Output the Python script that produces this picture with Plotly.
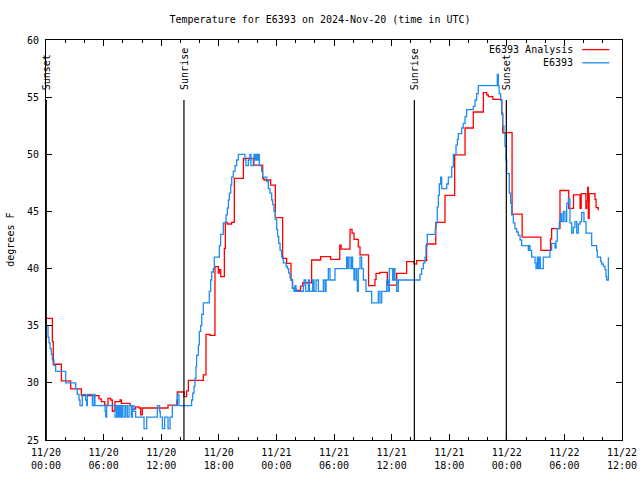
import pandas as pd
import plotly.graph_objects as go

# ---- data (hours after 2024-11-20 00:00 UTC, degrees F), step series ----
analysis_hours = [0.07, 0.66, 0.76, 1.60, 2.57, 3.68, 5.52, 5.76, 6.11, 6.46, 6.74, 6.91, 7.08, 7.19,
                  7.71, 7.85, 8.75, 8.99, 9.34, 9.69, 9.86, 10.03, 12.71, 13.68, 14.38, 14.65, 14.83,
                  16.39, 16.67, 17.08, 17.60, 17.95, 18.05, 18.20, 18.58, 18.68, 18.89, 19.34, 19.62,
                  20.56, 21.60, 22.57, 22.71, 23.40, 23.89, 24.65, 25.07, 25.52, 25.69, 26.04, 26.53,
                  26.74, 27.67, 28.61, 29.65, 30.60, 30.75, 31.67, 31.88, 32.08, 32.53, 32.71, 33.60,
                  34.27, 34.38, 34.79, 35.56, 36.53, 37.57, 38.33, 38.61, 39.65, 40.60, 41.56, 42.57,
                  43.65, 44.51, 45.56, 45.90, 46.08, 46.55, 47.47, 47.57, 48.55, 49.60, 51.55, 52.55,
                  52.67, 53.54, 54.45, 54.95, 55.63, 55.75, 56.24, 56.32, 56.42, 56.49, 56.58, 57.19,
                  57.30, 57.53]
analysis_temps = [35.65, 33.6, 31.63, 30.17, 29.47, 28.88, 28.6, 28.35, 28.06, 28.65, 28.5, 27.5, 27.6, 28.35,
                  28.5, 28.2, 28.0, 27.7, 27.9, 27.8, 27.2, 27.8, 28.05, 29.2, 28.8, 29.3, 30.22,
                  30.7, 34.25, 34.15, 40.17, 39.6, 39.9, 39.3, 41.77, 44.05, 43.9, 44.05, 47.9,
                  49.65, 49.06, 47.9, 47.75, 47.3, 44.45, 40.9, 40.46, 39.0, 38.27, 38.1, 38.47,
                  38.76, 40.75, 41.04, 40.8, 42.06, 41.7, 43.43, 43.1, 42.56, 41.9, 41.2, 38.5,
                  39.06, 39.58, 39.67, 38.56, 39.58, 40.6, 40.4, 40.7, 42.15, 44.05, 46.4, 49.94,
                  52.3, 53.7, 55.4, 55.19, 55.04, 54.81, 53.6, 51.89, 44.77, 42.75, 41.6, 42.6,
                  43.5, 46.83, 45.27, 46.44, 45.27, 46.55, 45.27, 45.9, 47.1, 44.4, 46.55, 46.06,
                  45.33, 45.1]

obs_hours = [0.07, 0.21, 0.31, 0.42, 0.56, 0.66, 0.83, 1.01, 2.05, 3.09, 3.26, 3.44, 3.54, 3.78, 4.13,
             4.24, 4.31, 4.83, 5.00, 5.10, 6.15, 6.22, 6.32, 7.08, 7.19, 7.36, 7.50, 7.60, 7.70, 7.78,
             7.88, 7.95, 8.13, 8.30, 8.47, 8.65, 8.89, 9.00, 9.17, 9.34, 10.21, 10.49, 11.60, 11.84,
             11.90, 12.12, 12.36, 12.71, 12.92, 13.16, 13.61, 13.68, 13.85, 15.17, 15.28, 15.42, 15.52,
             15.62, 15.69, 15.87, 15.97, 16.11, 16.22, 16.39, 17.01, 17.15, 17.26, 17.43, 17.53, 18.06,
             18.19, 18.47, 18.75, 18.89, 19.00, 19.10, 19.24, 19.34, 19.51, 19.69, 19.86, 20.03, 20.73,
             20.83, 21.08, 21.25, 21.35, 21.67, 21.77, 21.88, 22.01, 22.12, 22.22, 22.47, 22.57, 23.00,
             23.16, 23.33, 23.51, 23.61, 23.75, 23.89, 24.03, 24.13, 24.24, 24.38, 24.55, 24.72, 25.00,
             25.14, 25.28, 25.42, 25.52, 25.66, 25.83, 25.94, 26.04, 26.81, 26.88, 27.05, 27.33, 27.43,
             27.78, 27.92, 28.13, 28.37, 28.89, 29.06, 29.17, 29.41, 29.58, 30.10, 31.32, 31.39, 31.49,
             31.67, 31.84, 31.94, 32.08, 32.19, 32.36, 32.43, 32.53, 32.71, 32.88, 33.06, 33.33, 33.92,
             34.62, 34.79, 34.97, 35.49, 35.66, 35.76, 36.11, 36.25, 36.35, 36.53, 36.70, 38.96, 39.13,
             39.31, 39.48, 39.58, 39.72, 40.55, 40.63, 40.76, 40.87, 40.97, 41.11, 41.22, 41.74, 41.91,
             42.26, 42.43, 42.71, 42.85, 42.95, 43.30, 43.47, 43.65, 43.82, 44.51, 44.69, 44.86, 45.03,
             47.01, 47.12, 47.20, 47.36, 47.47, 47.57, 47.70, 47.81, 47.92, 47.99, 48.26, 48.40, 48.51,
             48.68, 48.85, 49.03, 49.20, 49.38, 49.55, 50.24, 50.35, 50.42, 50.59, 50.94, 51.04, 51.18,
             51.28, 51.39, 51.49, 51.80, 52.50, 52.67, 53.02, 53.13, 53.26, 53.47, 53.61, 53.72, 53.89,
             54.06, 54.24, 54.41, 54.58, 54.76, 54.93, 55.10, 55.28, 55.45, 55.63, 55.80, 56.04, 56.25,
             56.84, 57.36, 57.43, 57.78, 57.88, 58.06, 58.23, 58.33, 58.40, 58.58]
obs_temps = [35, 34, 33.5, 33, 32.5, 32, 31.5, 31, 30, 29.5, 29, 28.5, 28, 29, 28.5,
             28, 29, 28, 29, 28, 27.5, 27, 28, 28, 27, 28, 27, 28, 27, 28,
             27, 28, 27, 28, 27, 28, 27, 28, 27.5, 27, 26, 27, 28, 27.5,
             27, 26, 27, 26, 27, 28, 28.5, 29, 28, 28.5, 29.1, 29.7, 30.4,
             31.4, 32.4, 33.3, 34.5, 35, 36, 37, 38, 39, 39.7, 40, 41, 42,
             43, 44, 44.7, 45.3, 46, 46.6, 47.3, 48, 48.5, 49, 49.5, 50, 49.5,
             49, 49.5, 50, 49, 50, 49.5, 50, 49.5, 50, 49, 48.5, 48, 47.6,
             47, 46.6, 46, 45.6, 45, 44.3, 43.4, 42.8, 42.2, 41.6, 41, 40.5, 40.2,
             40, 39.6, 39.2, 39, 38.3, 38, 38.5, 38, 38.5, 39, 38, 39, 38,
             39, 38, 39, 38, 39, 38, 39, 40, 39, 40, 41, 40, 41,
             40, 41, 40, 39, 40, 39, 38, 40, 41, 40, 39, 38, 37,
             38, 37, 38, 39, 38, 40, 39, 40, 39, 38, 39, 39.5, 40,
             40.5, 41, 42, 43, 43.5, 44, 45.4, 46.4, 47.4, 48, 47, 47.4, 48,
             48.9, 50, 50.8, 51.3, 51.8, 52.3, 52.7, 53.3, 53.9, 54.2, 54.75, 55.3, 56,
             57, 56, 55.3, 54.7, 53.5, 52.5, 51.8, 50.7, 49.5, 48.3, 46.6, 45.7, 44.7,
             44, 43.5, 43.2, 42.9, 42.5, 42, 41.6, 42, 41.6, 41, 40.5, 40, 41,
             40, 41, 40, 41, 41.6, 42.2, 41.8, 42.4, 43.5, 44.1, 44.8, 44.1, 45,
             44.1, 45.7, 46.1, 44, 43.1, 43.6, 44.1, 43.1, 43.9, 44.1, 44.9, 44.1, 43.1,
             42, 41.6, 41, 40.6, 40.4, 40.2, 39.9, 39.3, 39, 41]

event_names = ["Sunset", "Sunrise", "Sunrise", "Sunset"]
event_hours = [0.03, 14.37, 38.37, 47.95]

series_names = ["E6393 Analysis", "E6393"]
series_colors = ["#ff0000", "#1e8cf0"]

base = pd.Timestamp("2024-11-20 00:00")
def to_time(hours):
    return [base + pd.to_timedelta(h, unit="h") for h in hours]

FONT = "DejaVu Sans Mono"

fig = go.Figure()
fig.add_trace(go.Scatter(x=to_time(analysis_hours), y=analysis_temps, mode="lines",
                         line=dict(color=series_colors[0], width=1.3, shape="hv"),
                         name=series_names[0], showlegend=False, hoverinfo="skip"))
fig.add_trace(go.Scatter(x=to_time(obs_hours), y=obs_temps, mode="lines",
                         line=dict(color=series_colors[1], width=1.3, shape="hv"),
                         name=series_names[1], showlegend=False, hoverinfo="skip"))

# sunrise / sunset markers
for name, t in zip(event_names, to_time(event_hours)):
    fig.add_shape(type="line", xref="x", yref="paper", x0=t, x1=t, y0=0, y1=0.85,
                  line=dict(color="black", width=1.2))
    fig.add_annotation(x=t, y=0.87, xref="x", yref="paper", text=name, showarrow=False,
                       textangle=-90, xanchor="center", yanchor="bottom",
                       font=dict(family=FONT, size=10, color="black"))

# gnuplot-style legend (text right-aligned, sample line to the right)
legend_rows = [0.976, 0.943]
for name, color, yy in zip(series_names, series_colors, legend_rows):
    fig.add_annotation(x=0.919, y=yy, xref="paper", yref="paper", text=name, showarrow=False,
                       xanchor="right", yanchor="middle",
                       font=dict(family=FONT, size=10, color="black"))
    fig.add_shape(type="line", xref="paper", yref="paper", x0=0.931, x1=0.978, y0=yy, y1=yy,
                  line=dict(color=color, width=1.3))

# y axis title
fig.add_annotation(x=-0.063, y=0.5, xref="paper", yref="paper", text="degrees F", showarrow=False,
                   textangle=-90, xanchor="center", yanchor="middle",
                   font=dict(family=FONT, size=10, color="black"))

fig.update_layout(
    width=640, height=480,
    margin=dict(l=46, r=18, t=40, b=40, autoexpand=False),
    paper_bgcolor="white", plot_bgcolor="white",
    font=dict(family=FONT, size=10, color="black"),
    title=dict(text="Temperature for E6393 on 2024-Nov-20 (time in UTC)", x=0.5, xanchor="center",
               y=1 - 19 / 480, yanchor="middle", yref="container",
               font=dict(family=FONT, size=10, color="black")),
    showlegend=False,
)
fig.update_xaxes(
    type="date", range=["2024-11-20 00:00", "2024-11-22 12:00"], automargin=False,
    dtick=6 * 3600 * 1000, tick0="2024-11-20 00:00", tickformat="%m/%d<br>%H:%M",
    ticks="inside", ticklen=6, tickcolor="black", showgrid=False, zeroline=False,
    showline=True, linecolor="black", linewidth=1, mirror="ticks",
    minor=dict(dtick=2 * 3600 * 1000, ticks="inside", ticklen=3, tickcolor="black", showgrid=False),
    tickfont=dict(family=FONT, size=10, color="black"), ticklabelstandoff=3,
)
fig.update_yaxes(
    range=[25, 60], dtick=5, tick0=25, automargin=False,
    ticks="inside", ticklen=6, tickcolor="black", showgrid=False, zeroline=False,
    showline=True, linecolor="black", linewidth=1, mirror="ticks",
    tickfont=dict(family=FONT, size=10, color="black"), ticklabelstandoff=4,
)

fig.write_html("out.html", config={"displayModeBar": False},
               post_script="document.body.style.margin='0';document.body.style.overflow='hidden';")
